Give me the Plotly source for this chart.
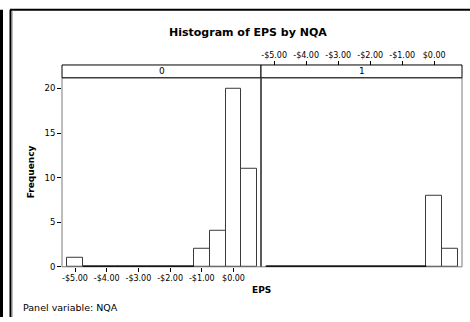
import plotly.graph_objects as go

# ---- data ----
bin_centers = [-5.0, -4.5, -4.0, -3.5, -3.0, -2.5, -2.0, -1.5, -1.0, -0.5, 0.0, 0.5]
freq_nqa0 = [1, 0, 0, 0, 0, 0, 0, 0, 2, 4, 20, 11]
freq_nqa1 = [0, 0, 0, 0, 0, 0, 0, 0, 0, 0, 8, 2]
panel_labels = ["0", "1"]
x_tickvals = [-5, -4, -3, -2, -1, 0]
x_ticktext = ["-$5.00", "-$4.00", "-$3.00", "-$2.00", "-$1.00", "$0.00"]
y_tickvals = [0, 5, 10, 15, 20]
bin_width = 0.5

W, H = 470, 322
def fx(p):
    return p / W
def fy(p):
    return 1 - p / H

FONT = "DejaVu Sans"
BAR_LINE = "#3a3a3a"
FRAME = "#7a7a7a"

fig = go.Figure()

def add_panel(freqs, xa, ya):
    fig.add_trace(go.Bar(
        x=bin_centers, y=freqs, width=bin_width,
        marker=dict(color="white", line=dict(color=BAR_LINE, width=1)),
        xaxis=xa, yaxis=ya, showlegend=False, hoverinfo="x+y"))
    zx, zy = [], []
    for c, f in zip(bin_centers, freqs):
        if f == 0:
            zx += [c - bin_width / 2, c + bin_width / 2, None]
            zy += [0, 0, None]
    fig.add_trace(go.Scatter(
        x=zx, y=zy, mode="lines", line=dict(color="black", width=2.5),
        xaxis=xa, yaxis=ya, showlegend=False, hoverinfo="skip"))

add_panel(freq_nqa0, "x", "y")
add_panel(freq_nqa1, "x2", "y2")

xr = [-5.41, 0.868]
yr = [0, 21.2]
left0, mid, right1 = 62, 261, 462
ptop, pbot, stop = 79, 271, 66

common_x = dict(range=xr, tickvals=x_tickvals, ticktext=x_ticktext, ticks="outside",
                ticklen=4, tickcolor="black", tickwidth=1, showgrid=False, zeroline=False,
                showline=False, tickfont=dict(family=FONT, size=8, color="black"),
                fixedrange=True)

fig.update_layout(
    width=W, height=H, margin=dict(l=0, r=0, t=0, b=0),
    paper_bgcolor="white", plot_bgcolor="white", bargap=0,
    xaxis=dict(domain=[fx(left0), fx(mid)], anchor="y", **common_x),
    xaxis2=dict(domain=[fx(mid), fx(right1)], anchor="free", position=fy(stop),
                side="top", **common_x),
    yaxis=dict(domain=[fy(pbot), fy(ptop)], range=yr, tickvals=y_tickvals,
               ticks="outside", ticklen=4, tickcolor="black", showgrid=False,
               zeroline=False, showline=False, anchor="x",
               tickfont=dict(family=FONT, size=8.5, color="black")),
    yaxis2=dict(domain=[fy(pbot), fy(ptop)], range=yr, showticklabels=False,
                ticks="", showgrid=False, zeroline=False, showline=False, anchor="x2"),
)

shapes = []
# panel frames
for a, b in [(left0, mid), (mid, right1)]:
    shapes.append(dict(type="rect", xref="paper", yref="paper", x0=fx(a), x1=fx(b),
                       y0=fy(pbot), y1=fy(ptop), line=dict(color=FRAME, width=1),
                       layer="below"))
    shapes.append(dict(type="rect", xref="paper", yref="paper", x0=fx(a), x1=fx(b),
                       y0=fy(ptop), y1=fy(stop), line=dict(color="black", width=1),
                       fillcolor="white"))
# divider between panels
shapes.append(dict(type="line", xref="paper", yref="paper", x0=fx(mid), x1=fx(mid),
                   y0=fy(pbot), y1=fy(ptop), line=dict(color="#444444", width=1.5)))
# outer window frame
shapes.append(dict(type="line", xref="paper", yref="paper", x0=fx(10), x1=1,
                   y0=fy(10), y1=fy(10), line=dict(color="black", width=2)))
shapes.append(dict(type="line", xref="paper", yref="paper", x0=fx(10.5), x1=fx(10.5),
                   y0=fy(10), y1=0, line=dict(color="black", width=2)))
shapes.append(dict(type="line", xref="paper", yref="paper", x0=fx(12.5), x1=fx(12.5),
                   y0=fy(11), y1=0, line=dict(color="#bbbbbb", width=1)))
shapes.append(dict(type="line", xref="paper", yref="paper", x0=fx(1.5), x1=fx(1.5),
                   y0=fy(10), y1=0, line=dict(color="black", width=3)))
fig.update_layout(shapes=shapes)

ann = []
for lab, a, b in zip(panel_labels, [left0, mid], [mid, right1]):
    ann.append(dict(text=lab, xref="paper", yref="paper", x=fx((a + b) / 2),
                    y=fy((ptop + stop) / 2), showarrow=False, xanchor="center",
                    yanchor="middle", font=dict(family=FONT, size=9, color="black")))
ann.append(dict(text="<b>Histogram of EPS by NQA</b>", xref="paper", yref="paper",
                x=fx(248), y=fy(33), showarrow=False, xanchor="center", yanchor="middle",
                font=dict(family=FONT, size=11, color="black")))
ann.append(dict(text="<b>EPS</b>", xref="paper", yref="paper", x=fx(mid), y=fy(295),
                showarrow=False, xanchor="center", yanchor="middle",
                font=dict(family=FONT, size=9, color="black")))
ann.append(dict(text="<b>Frequency</b>", xref="paper", yref="paper", x=fx(31),
                y=fy((ptop + pbot) / 2), showarrow=False, textangle=-90,
                xanchor="center", yanchor="middle",
                font=dict(family=FONT, size=9, color="black")))
ann.append(dict(text="Panel variable: NQA", xref="paper", yref="paper", x=fx(21),
                y=fy(312), showarrow=False, xanchor="left", yanchor="middle",
                font=dict(family=FONT, size=9.5, color="black")))
fig.update_layout(annotations=ann)

fig.write_html("out.html")
